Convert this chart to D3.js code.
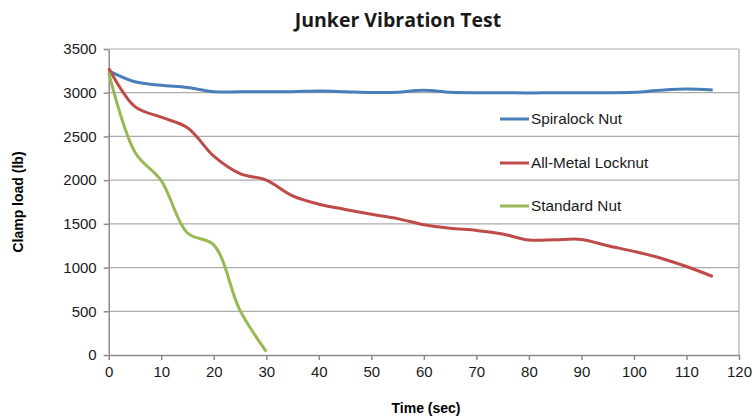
<!DOCTYPE html>
<html>
<head>
<meta charset="utf-8">
<script src="https://cdn.jsdelivr.net/npm/d3@7"></script>
<style>
  body { margin: 0; background: #fff; }
  svg text { font-family: "Liberation Sans", Arial, sans-serif; }
</style>
</head>
<body>
<svg id="chart" width="752" height="419"></svg>
<script>
// Data (clamp load in lb, every 5 sec)
const times = d3.range(0, 120, 5);
const spiralock = [3250, 3125, 3085, 3060, 3012, 3010, 3010, 3012, 3020, 3012, 3002, 3005, 3028, 3005, 3000, 3000, 2997, 3000, 3000, 3000, 3005, 3028, 3042, 3030];
const allMetal = [3280, 2840, 2720, 2600, 2275, 2075, 2000, 1820, 1725, 1665, 1610, 1560, 1490, 1450, 1425, 1385, 1315, 1318, 1322, 1250, 1185, 1110, 1012, 898];
const standard = [3230, 2320, 1995, 1395, 1260, 510, 40];
const seriesNames = ['Spiralock Nut', 'All-Metal Locknut', 'Standard Nut'];
const seriesColors = ['#4a7ebb', '#be4b48', '#98b954'];
const xTicks = d3.range(0, 121, 10);
const yTicks = d3.range(0, 3501, 500);

const svg = d3.select('#chart');
const margin = { top: 49, right: 13, bottom: 64, left: 108.7 };
const width = 752 - margin.left - margin.right,
    height = 419 - margin.top - margin.bottom;

const xScale = d3.scaleLinear().domain([0, 120]).range([0, width]);
const yScale = d3.scaleLinear().domain([0, 3500]).range([height, 0]);

const series = [spiralock, allMetal, standard].map((vals, i) => ({
    name: seriesNames[i],
    color: seriesColors[i],
    values: vals.map((v, j) => ({ t: times[j], v: v }))
}));

// Title
svg.append('text')
    .attr('x', 398).attr('y', 27)
    .attr('text-anchor', 'middle')
    .style('font-family', '"Open Sans", sans-serif')
    .style('font-weight', 'bold')
    .style('font-size', '19.5px')
    .attr('fill', '#1a1a1a')
    .text('Junker Vibration Test');

const g = svg.append('g').attr('transform', 'translate(' + margin.left + ',' + margin.top + ')');

// Gridlines
g.append('g').attr('class', 'grid')
    .selectAll('line').data(yTicks.filter(d => d > 0)).enter().append('line')
    .attr('x1', 0).attr('x2', width)
    .attr('y1', d => yScale(d)).attr('y2', d => yScale(d))
    .attr('stroke', '#ababab').attr('stroke-width', 1.2);

// Right border
g.append('line')
    .attr('x1', width).attr('x2', width).attr('y1', 0).attr('y2', height)
    .attr('stroke', '#ababab').attr('stroke-width', 1.2);

// Axes
const xAxis = d3.axisBottom(xScale).tickValues(xTicks).tickSize(5).tickSizeOuter(0).tickFormat(d3.format('d'));
const yAxis = d3.axisLeft(yScale).tickValues(yTicks).tickSize(5).tickSizeOuter(0).tickFormat(d3.format('d'));

const xAxisG = g.append('g').attr('transform', 'translate(0,' + height + ')').call(xAxis);
const yAxisG = g.append('g').call(yAxis);
[xAxisG, yAxisG].forEach(a => {
    a.selectAll('path, line').attr('stroke', '#8c8c8c').attr('stroke-width', 1.5);
    a.selectAll('text').attr('fill', '#1a1a1a').style('font-size', '15px');
});
xAxisG.selectAll('text').attr('dy', '0.71em').attr('y', 11);
yAxisG.selectAll('text').attr('x', -12);

// Axis labels
svg.append('text')
    .attr('transform', 'translate(23,' + (margin.top + height / 2) + ') rotate(-90)')
    .attr('text-anchor', 'middle')
    .style('font-weight', 'bold').style('font-size', '14px')
    .text('Clamp load (lb)');
svg.append('text')
    .attr('x', 426).attr('y', 413)
    .attr('text-anchor', 'middle')
    .style('font-weight', 'bold').style('font-size', '14px')
    .text('Time (sec)');

// Lines
const line = d3.line()
    .x(d => xScale(d.t))
    .y(d => yScale(d.v))
    .curve(d3.curveCatmullRom.alpha(0.5));

g.append('g').selectAll('path').data(series).enter().append('path')
    .attr('d', d => line(d.values))
    .attr('fill', 'none')
    .attr('stroke', d => d.color)
    .attr('stroke-width', 3)
    .attr('stroke-linejoin', 'round');

// Legend
const legendY = [119, 163, 206];
const legend = svg.append('g').selectAll('g').data(series).enter().append('g')
    .attr('transform', (d, i) => 'translate(500,' + legendY[i] + ')');
legend.append('line')
    .attr('x1', 0).attr('x2', 29)
    .attr('stroke', d => d.color).attr('stroke-width', 3);
legend.append('text')
    .attr('x', 31).attr('dy', '0.35em')
    .style('font-size', '15.3px').attr('fill', '#1a1a1a')
    .text(d => d.name);
</script>
</body>
</html>
